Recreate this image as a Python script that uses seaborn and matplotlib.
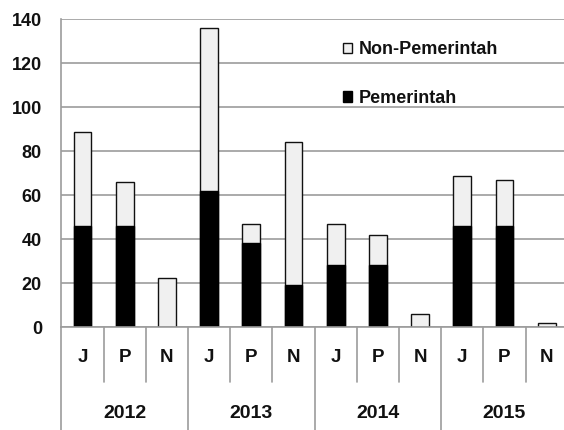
import matplotlib
matplotlib.use("Agg")
import matplotlib.pyplot as plt
import seaborn as sns
import pandas as pd
from matplotlib.patches import Patch
from matplotlib.lines import Line2D

years = ["2012", "2013", "2014", "2015"]
subcats = ["J", "P", "N"]
pemerintah = [46, 46, 0, 62, 38, 19, 28, 28, 0, 46, 46, 0]
total = [88.5, 66, 22.5, 136, 47, 84, 47, 42, 6, 68.5, 67, 2]

cats = [f"{y}-{s}" for y in years for s in subcats]
df = pd.DataFrame({"cat": cats, "Pemerintah": pemerintah, "Total": total})

sns.set_style("white")
FONT = ["Liberation Sans", "DejaVu Sans"]
plt.rcParams["font.family"] = FONT

fig = plt.figure(figsize=(5.64, 4.30), dpi=100)
W, H = 564, 430
x0, x1 = 61.4, 564
ytop, ybot = 19, 327
ax = fig.add_axes([x0 / W, 1 - ybot / H, (x1 - x0) / W, (ybot - ytop) / H])

light = "#f0f0f0"
sns.barplot(data=df, x="cat", y="Total", order=cats, color=light, edgecolor="#111111",
            linewidth=1.0, width=0.42, ax=ax, zorder=3, saturation=1)
sns.barplot(data=df, x="cat", y="Pemerintah", order=cats, color="black", edgecolor="black",
            linewidth=1.0, width=0.42, ax=ax, zorder=4, saturation=1)

catw = 42.2
ax.set_xlim(-0.5, -0.5 + (x1 - x0) / catw)
ax.set_ylim(0, 140)
ax.set_yticks(range(0, 141, 20))
gray = "#9c9c9c"
ax.yaxis.grid(True, color=gray, linewidth=1.2, zorder=0)
ax.set_axisbelow(True)
for s in ["top", "right", "bottom"]:
    ax.spines[s].set_visible(False)
ax.spines["left"].set_color(gray)
ax.spines["left"].set_linewidth(1.2)
ax.tick_params(axis="y", length=8, color=gray, width=1.2, pad=6, labelsize=13,
               labelcolor="#111111")
for t in ax.get_yticklabels():
    t.set_fontweight("bold")
ax.set_xticks([])
ax.set_xlabel("")
ax.set_ylabel("")

def fx(px):
    return px / W
def fy(py):
    return 1 - py / H

fig.add_artist(Line2D([fx(x0), 1], [fy(ybot), fy(ybot)], color=gray, lw=1.2))
fig.add_artist(Line2D([fx(x0), fx(x0)], [fy(ybot), 0], color=gray, lw=1.2))
for k in range(1, 12):
    xp = x0 + catw * k
    yend = 0 if k % 3 == 0 else fy(382)
    fig.add_artist(Line2D([fx(xp), fx(xp)], [fy(ybot), yend], color=gray, lw=1.2))
for i, c in enumerate(cats):
    xp = x0 + catw * (i + 0.5)
    fig.text(fx(xp), fy(358), c.split("-")[1], ha="center", va="center",
             fontsize=13.5, fontweight="bold", color="#111111")
for j, y in enumerate(years):
    xp = x0 + catw * (3 * j + 1.5)
    fig.text(fx(xp), fy(413), y, ha="center", va="center",
             fontsize=14, fontweight="bold", color="#111111")

handles = [Patch(facecolor=light, edgecolor="#111111", linewidth=1.0),
           Patch(facecolor="black", edgecolor="black", linewidth=1.0)]
leg = ax.legend(handles, ["Non-Pemerintah", "Pemerintah"], loc="upper left",
                bbox_to_anchor=((336 - x0) / (x1 - x0), 1 - (34 - ytop) / (ybot - ytop)),
                frameon=False, fontsize=13, labelspacing=1.75, handlelength=0.5,
                handleheight=0.5, handletextpad=0.35, borderaxespad=0)
for t in leg.get_texts():
    t.set_fontweight("bold")
    t.set_color("#111111")

fig.savefig("out.png", dpi=100)
